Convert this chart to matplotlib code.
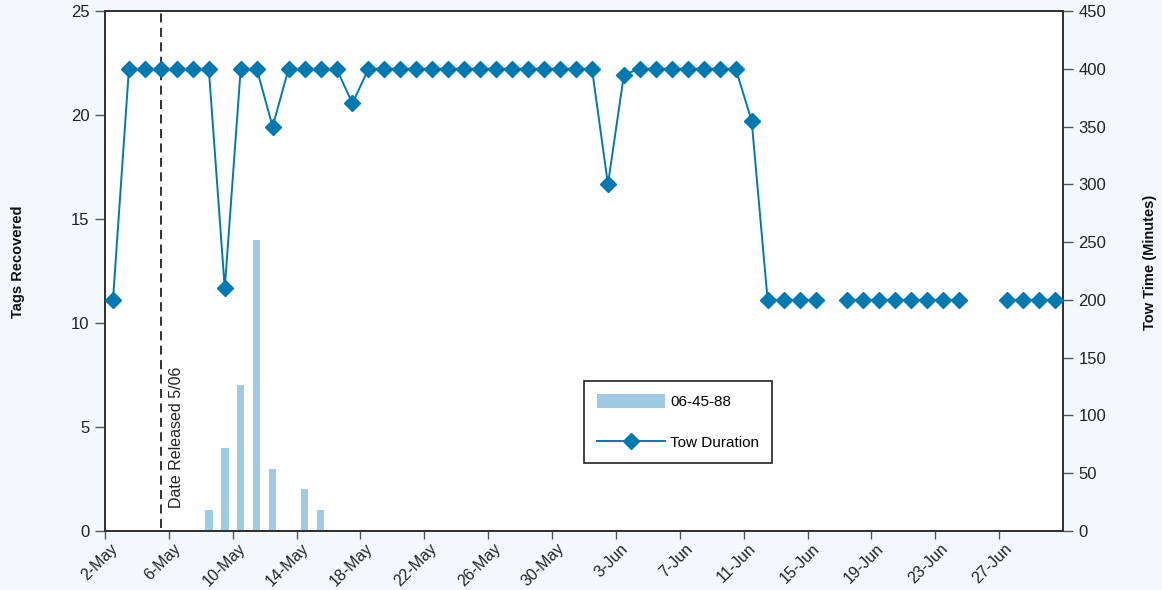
import numpy as np
import matplotlib
matplotlib.use('Agg')
import matplotlib.pyplot as plt
import matplotlib.transforms as mtrans
from matplotlib.lines import Line2D
from matplotlib.patches import Patch

plt.rcParams['font.family'] = ['Liberation Sans', 'DejaVu Sans']

# one category per day, 2-May .. 30-Jun
n_days = 60
tick_idx = list(range(0, 60, 4))
tick_labels = ['2-May', '6-May', '10-May', '14-May', '18-May', '22-May', '26-May',
               '30-May', '3-Jun', '7-Jun', '11-Jun', '15-Jun', '19-Jun', '23-Jun', '27-Jun']

# tags recovered (day index -> count)
tag_days = [6, 7, 8, 9, 10, 12, 13]
tag_counts = [1, 4, 7, 14, 3, 2, 1]

# tow duration in minutes, nan = no tow
nan = np.nan
tow_minutes = [200, 400, 400, 400, 400, 400, 400, 210, 400, 400,
               350, 400, 400, 400, 400, 370, 400, 400, 400, 400,
               400, 400, 400, 400, 400, 400, 400, 400, 400, 400,
               400, 300, 395, 400, 400, 400, 400, 400, 400, 400,
               355, 200, 200, 200, 200, nan, 200, 200, 200, 200,
               200, 200, 200, 200, nan, nan, 200, 200, 200, 200]

release_day = 3
release_label = 'Date Released 5/06'

blue = '#0079B0'
light = '#9ECBE3'
bg = '#F3F8FB'
spine = '#333333'

fig = plt.figure(figsize=(11.62, 5.90), dpi=100, facecolor=bg)
ax = fig.add_axes([105/1162, 59/590, 958/1162, 520/590])
ax.set_facecolor('white')
ax2 = ax.twinx()

x = np.arange(n_days) + 0.5
ax.bar(np.array(tag_days) + 0.5, tag_counts, width=0.47, color=light, zorder=2)
ax.axvline(release_day + 0.5, ymin=0.006, color='#222222', ls=(0, (5, 3)), lw=1.3, zorder=3)
ax.text(release_day + 1.0, 1.1, release_label, rotation=90, ha='left', va='bottom',
        fontsize=11.5, color='#222222')

ax2.plot(x, tow_minutes, color=blue, lw=1.4, marker='D', markersize=8.2,
         markeredgecolor=blue, markeredgewidth=1, clip_on=False, zorder=4)

ax.set_xlim(0, n_days)
ax.set_ylim(0, 25)
ax2.set_ylim(0, 450)
ax.set_yticks(range(0, 26, 5))
ax2.set_yticks(range(0, 451, 50))
ax.set_xticks(tick_idx)
ax.set_xticklabels(tick_labels, rotation=45, ha='right', va='center',
                   rotation_mode='anchor')

for a in (ax, ax2):
    for s in a.spines.values():
        s.set_color(spine)
        s.set_linewidth(1.4)
    a.tick_params(direction='out', length=7, width=1, color='#555555',
                  labelsize=12, labelcolor='#222222', pad=4)
ax.tick_params(axis='x', labelsize=11.5, pad=5, length=6)
shift = mtrans.ScaledTranslation(10/100, 0, fig.dpi_scale_trans)
for lab in ax.get_xticklabels():
    lab.set_transform(lab.get_transform() + shift)

ax.set_ylabel('Tags Recovered', fontsize=10.5, fontweight='bold', color='#111111')
ax.yaxis.set_label_coords(-0.084, 0.517)
ax2.set_ylabel('Tow Time (Minutes)', fontsize=10.5, fontweight='bold', color='#111111')
ax2.yaxis.set_label_coords(1.083, 0.517)

handles = [Patch(facecolor=light, edgecolor='none'),
           Line2D([], [], color=blue, lw=1.4, marker='D', markersize=8.2)]
leg = ax2.legend(handles, ['06-45-88', 'Tow Duration'], loc='upper left',
                 bbox_to_anchor=(0.5, 0.289), fancybox=False, framealpha=1,
                 edgecolor='#222222', fontsize=11, handlelength=4.45, handleheight=1.1,
                 borderpad=0.85, labelspacing=1.65, handletextpad=0.35, borderaxespad=0)
leg.get_frame().set_linewidth(1.2)
leg.set_zorder(10)

fig.savefig('out.png', dpi=100, facecolor=bg)
